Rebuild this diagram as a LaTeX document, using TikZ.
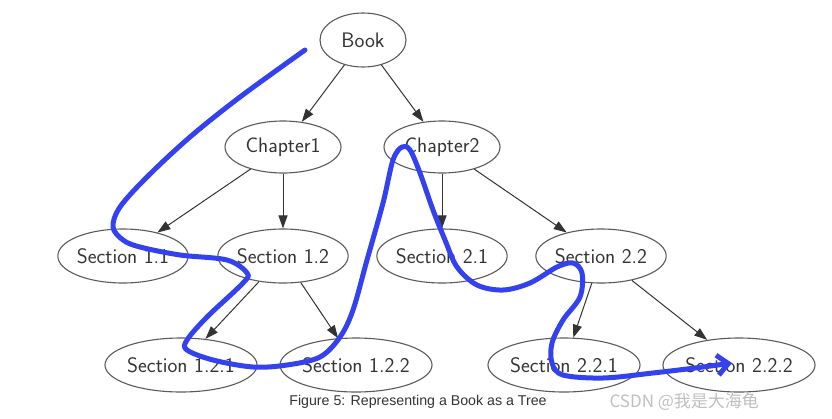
\documentclass[tikz,border=0pt]{standalone}
\usepackage{fontspec}
\usepackage{tikz}
\usetikzlibrary{arrows.meta,positioning,shapes.geometric}
\newfontfamily\capfont{Liberation Sans}
\newfontfamily\cjk{Noto Sans CJK SC}
\definecolor{ink}{HTML}{333333}
\definecolor{rim}{HTML}{5A5A5A}
\definecolor{pen}{HTML}{3342EE}

\begin{document}
\begin{tikzpicture}[x=1pt,y=-1pt,>={Triangle[length=13pt,width=9pt]},
  oval/.style={draw=rim,line width=1.1pt,ellipse,inner sep=0pt,minimum height=54pt,text=ink,font=\fontsize{21}{24}\selectfont\sffamily},
  part/.style={oval,minimum width=129pt},
  leaf/.style={oval,minimum width=147pt},
  link/.style={->,draw=ink,line width=1pt}]
  \useasboundingbox (0,0) rectangle (832,418);
  \node[oval,minimum width=86pt] (book) at (363,40) {Book};
  \node[oval,minimum width=116pt,minimum height=52pt] (ch1) at (283,147) {Chapter1};
  \node[oval,minimum width=116pt,minimum height=52pt] (ch2) at (442,147) {Chapter2};
  \node[part] (s11) at (123,256) {Section 1.1};
  \node[part] (s12) at (283,256) {Section 1.2};
  \node[part] (s21) at (442,256) {Section 2.1};
  \node[part] (s22) at (601,256) {Section 2.2};
  \node[leaf] (s121) at (181,365) {Section 1.2.1};
  \node[leaf] (s122) at (356,365) {Section 1.2.2};
  \node[leaf] (s221) at (564,365) {Section 2.2.1};
  \node[leaf] (s222) at (739,365) {Section 2.2.2};
  \draw[link] (book)--(ch1);
  \draw[link] (book)--(ch2);
  \draw[link] (ch1)--(s11);
  \draw[link] (ch1)--(s12);
  \draw[link] (ch2)--(s21);
  \draw[link] (ch2)--(s22);
  \draw[link] (s12)--(s121);
  \draw[link] (s12)--(s122);
  \draw[link] (s22)--(s221);
  \draw[link] (s22)--(s222);
  \node[text=ink,font=\fontsize{14.2}{17}\selectfont\capfont] (cap) at (418,402) {Figure 5: Representing a Book as a Tree};
  \node[text=gray!50,font=\fontsize{17}{20}\selectfont\cjk,anchor=west] (mark) at (606,402) {CSDN @我是大海龟};
  % traversal stroke drawn over the tree
  \draw[pen,line width=5pt,line cap=round,line join=round,-{Straight Barb[length=11pt,width=20pt]}]
    plot[smooth,tension=0.55] coordinates {(305,50) (240,97) (190,137) (147,177) (120,207) (113,227) (123,240)
      (140,247) (180,255) (227,260) (247,273) (243,283) (207,317) (187,340) (187,350) (213,360) (253,367)
      (287,365) (320,357) (340,337) (353,310) (367,260) (383,203) (393,160) (402,147) (410,150) (420,173)
      (433,210) (445,240) (457,267) (477,285) (503,290) (530,283) (557,267) (573,263) (582,273) (580,297)
      (563,320) (552,343) (552,363) (563,375) (603,378) (653,373) (703,367) (732,363)};
\end{tikzpicture}
\end{document}
